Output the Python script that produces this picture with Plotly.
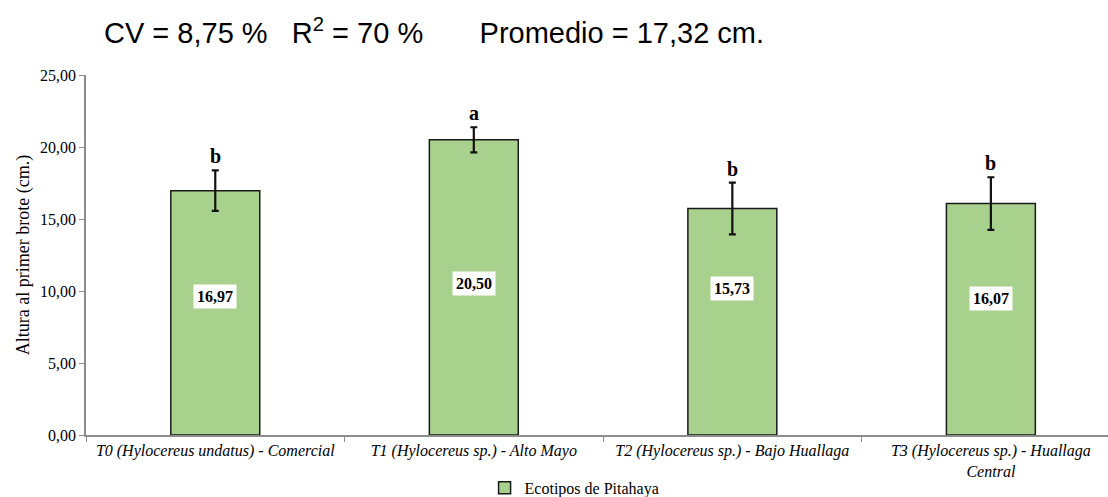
import plotly.graph_objects as go

categories = [
    "<i>T0 (Hylocereus undatus) - Comercial</i>",
    "<i>T1 (Hylocereus sp.) - Alto Mayo</i>",
    "<i>T2 (Hylocereus sp.) - Bajo Huallaga</i>",
    "<i>T3 (Hylocereus sp.) - Huallaga<br>Central</i>",
]
heights = [16.97, 20.50, 15.73, 16.07]
errors = [1.40, 0.87, 1.80, 1.83]
letters = ["b", "a", "b", "b"]
label_y = [9.65, 10.55, 10.2, 9.5]
y_ticks = [0, 5, 10, 15, 20, 25]
y_tick_text = ["0,00", "5,00", "10,00", "15,00", "20,00", "25,00"]

serif = "Liberation Serif"
sans = "Liberation Sans"

fig = go.Figure()
fig.add_trace(go.Bar(
    x=categories,
    y=heights,
    name="Ecotipos de Pitahaya",
    marker=dict(color="#A9D18E", line=dict(color="#1a1a1a", width=1.5)),
    width=0.344,
    error_y=dict(type="data", array=errors, visible=True,
                 color="#111111", thickness=2.2, width=3.5),
))

for cat, h, e, letter, ly in zip(categories, heights, errors, letters, label_y):
    fig.add_annotation(
        x=cat, y=h + e, text=f"<b>{letter}</b>", showarrow=False,
        yanchor="bottom", yshift=1,
        font=dict(family=serif, size=20, color="black"),
    )
    fig.add_annotation(
        x=cat, y=ly, text="<b>" + f"{h:.2f}".replace(".", ",") + "</b>",
        showarrow=False, bgcolor="white", borderpad=3,
        font=dict(family=serif, size=16, color="black"),
    )

fig.update_layout(
    width=1108, height=497,
    margin=dict(l=86, r=0, t=75, b=62, autoexpand=False),
    paper_bgcolor="white", plot_bgcolor="white",
    title=dict(
        text="CV = 8,75 %   R<sup>2</sup> = 70 %       Promedio = 17,32 cm.",
        x=104 / 1108, xanchor="left", xref="container",
        y=1 - 33 / 497, yanchor="middle", yref="container",
        font=dict(family=sans, size=29, color="black"),
    ),
    showlegend=True,
    legend=dict(
        orientation="h", x=0.39, xanchor="left", y=-0.147, yanchor="middle",
        font=dict(family=serif, size=16, color="black"),
        itemwidth=30, tracegroupgap=0,
    ),
)

fig.update_xaxes(
    range=[-0.5, 3.453],
    showline=True, linecolor="#8c8c8c", linewidth=1.5,
    ticks="outside", tickson="boundaries", ticklen=5, tickcolor="#8c8c8c",
    tickfont=dict(family=serif, size=16, color="black"),
    showgrid=False, zeroline=False, automargin=False,
)
fig.update_yaxes(
    range=[0, 25], tickvals=y_ticks, ticktext=y_tick_text,
    showline=True, linecolor="#8c8c8c", linewidth=1.5,
    ticks="outside", ticklen=5, tickcolor="#8c8c8c",
    tickfont=dict(family=serif, size=16, color="black"),
    title=dict(text="Altura al primer brote (cm.)",
               font=dict(family=serif, size=18, color="black"), standoff=6),
    showgrid=False, zeroline=False, automargin=False,
)

fig.write_html("out.html")
